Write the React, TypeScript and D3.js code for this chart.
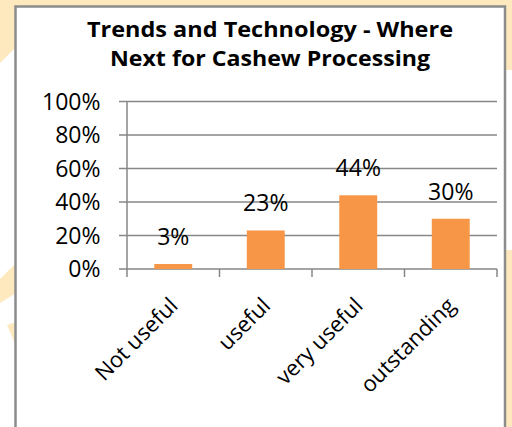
import React from "react";
import * as d3 from "d3";

const categories: string[] = ["Not useful", "useful", "very useful", "outstanding"];
const values: number[] = [3, 23, 44, 30];
const yTicks: number[] = [0, 0.2, 0.4, 0.6, 0.8, 1];
const titleLines: string[] = ["Trends and Technology - Where", "Next for Cashew Processing"];

const W = 512;
const H = 427;
const FONT = "'Open Sans', 'Noto Sans', sans-serif";
const CREAM = "#FEE8BE";
const GRID = "#878787";
const BAR = "#F79646";

export default function App() {
  const x = d3
    .scaleBand<string>()
    .domain(categories)
    .range([127, 497])
    .paddingInner(0.59)
    .paddingOuter(0.295);
  const y = d3.scaleLinear().domain([0, 1]).range([269, 101.5]);
  const fmt = d3.format(".0%");
  const x0 = x.range()[0];
  const x1 = x.range()[1];
  const step = x.step();
  const bounds = d3.range(categories.length + 1).map((i) => x0 + i * step);

  return (
    <svg
      width={W}
      height={H}
      style={{ position: "absolute", left: 0, top: 0, display: "block" }}
    >
      <rect x={0} y={0} width={W} height={H} fill="#ffffff" />
      {/* decorative slide background */}
      <rect x={0} y={0} width={W} height={7} fill={CREAM} />
      <polygon points="0,0 16,0 16,47 0,63" fill={CREAM} />
      <polygon points="0,279 16,263 16,293 0,303" fill={CREAM} />
      <polygon points="7,325 16,322 16,346" fill={CREAM} />
      <rect x={505} y={0} width={7} height={70} fill={CREAM} />
      <rect x={505} y={250} width={7} height={177} fill={CREAM} />

      {/* chart frame */}
      <rect
        x={15.5}
        y={6.5}
        width={489.5}
        height={440}
        fill="#ffffff"
        stroke="#8c8c8c"
        strokeWidth={2.5}
      />

      {/* title */}
      {titleLines.map((t, i) => (
        <text
          key={t}
          x={270}
          y={37 + i * 28.5}
          textAnchor="middle"
          fontFamily={FONT}
          fontWeight="bold"
          fontSize={21}
          fill="#000"
          textLength={i === 0 ? 366 : 320}
          lengthAdjust="spacingAndGlyphs"
        >
          {t}
        </text>
      ))}

      {/* gridlines and y ticks */}
      {yTicks.map((t) => (
        <g key={t}>
          <line
            x1={119}
            x2={x1}
            y1={y(t)}
            y2={y(t)}
            stroke={GRID}
            strokeWidth={1.5}
          />
          <text
            x={100.5}
            y={y(t) + 8.3}
            textAnchor="end"
            fontFamily={FONT}
            fontSize={23}
            fill="#000"
          >
            {fmt(t)}
          </text>
        </g>
      ))}

      {/* y axis line */}
      <line x1={x0} x2={x0} y1={y(1)} y2={y(0)} stroke={GRID} strokeWidth={1.5} />
      {/* x axis ticks */}
      {bounds.map((b, i) => (
        <line
          key={i}
          x1={b}
          x2={b}
          y1={y(0)}
          y2={y(0) + 8}
          stroke={GRID}
          strokeWidth={1.5}
        />
      ))}

      {/* bars */}
      {categories.map((c, i) => (
        <rect
          key={c}
          x={x(c)}
          y={y(values[i] / 100)}
          width={x.bandwidth()}
          height={y(0) - y(values[i] / 100)}
          fill={BAR}
        />
      ))}

      {/* data labels */}
      {categories.map((c, i) => (
        <text
          key={c}
          x={(x(c) as number) + x.bandwidth() / 2}
          y={y(values[i] / 100) - 19}
          textAnchor="middle"
          fontFamily={FONT}
          fontSize={23}
          fill="#000"
        >
          {values[i]}%
        </text>
      ))}

      {/* category labels */}
      {categories.map((c) => {
        const cx = (x(c) as number) + x.bandwidth() / 2;
        return (
          <text
            key={c}
            transform={`translate(${cx + 6},${307}) rotate(-45)`}
            textAnchor="end"
            fontFamily={FONT}
            fontSize={22}
            fill="#000"
          >
            {c}
          </text>
        );
      })}
    </svg>
  );
}
